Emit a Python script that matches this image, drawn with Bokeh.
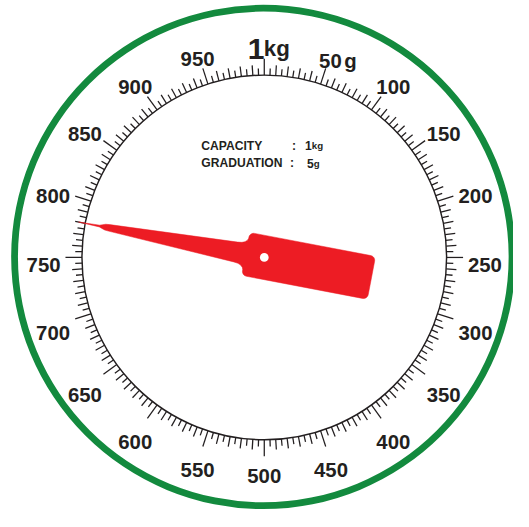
import numpy as np
from bokeh.plotting import figure
from bokeh.models import Range1d, ColumnDataSource
from bokeh.core.properties import value
from bokeh.embed import file_html
from bokeh.resources import INLINE

# ---------------- data ----------------
capacity_g = 1000
graduation_g = 5
tick_values = list(range(0, 1000, 5))
label_values = [50, 100, 150, 200, 250, 300, 350, 400, 450, 500,
                550, 600, 650, 700, 750, 800, 850, 900, 950]
label_texts = ["50", "100", "150", "200", "250", "300", "350", "400", "450", "500",
               "550", "600", "650", "700", "750", "800", "850", "900", "950"]
top_label_number = "1"
top_label_unit = "kg"
first_label_unit = "g"
needle_value = 780
info_names = ["CAPACITY", "GRADUATION"]
info_numbers = ["1", "5"]
info_units = ["kg", "g"]

# ---------------- styling ----------------
INK = "#231f20"
GREEN = "#138a3e"
RED = "#ed1c24"
FONT = value("Liberation Sans")

W, H = 513, 511
k = W / 529.0  # screen px per data unit


def fs(px):
    return f"{px * k:.2f}px"


p = figure(width=W, height=H, output_backend="svg", toolbar_location=None,
           x_range=Range1d(-272, 257), y_range=Range1d(-262, 265),
           x_axis_type=None, y_axis_type=None, min_border=0)
p.grid.visible = False
p.outline_line_color = None
p.background_fill_color = "white"
p.border_fill_color = "white"


def ang(v):
    return 2 * np.pi * np.asarray(v, dtype=float) / capacity_g


# outer green ring
p.annulus(x=[-1], y=[0.5], inner_radius=253, outer_radius=260,
          fill_color=GREEN, line_color=None)

# baseline arc
r0 = 188
p.circle(x=[0], y=[0], radius=r0, fill_color=None, line_color=INK, line_width=1.5 * k)

# ticks
tv = np.array(tick_values)
th = ang(tv)
lengths = np.where(tv % 50 == 0, 17, np.where(tv % 10 == 0, 10.5, 7))
tick_src = ColumnDataSource(dict(
    x0=r0 * np.sin(th), y0=r0 * np.cos(th),
    x1=(r0 + lengths) * np.sin(th), y1=(r0 + lengths) * np.cos(th)))
p.segment(x0="x0", y0="y0", x1="x1", y1="y1", source=tick_src,
          line_color=INK, line_width=1.3 * k)

# numeric labels
lv = np.array(label_values)
lt = ang(lv)
w = np.array([11.7 * len(s) for s in label_texts])
h = 15.0
R = 210 + w / 2 * np.abs(np.sin(lt)) + h / 2 * np.abs(np.cos(lt))
cx = R * np.sin(lt)
cy = R * np.cos(lt)
lab_src = ColumnDataSource(dict(x=cx, y=cy - 7.5, text=label_texts))
p.text(x="x", y="y", text="text", source=lab_src, text_font=FONT,
       text_font_style="bold", text_font_size=fs(21), text_color=INK,
       text_align="center", text_baseline="alphabetic")
# "g" after first label
p.text(x=[cx[0] + w[0] / 2 + 2.5], y=[cy[0] - 7.5], text=[first_label_unit],
       text_font=FONT, text_font_style="bold", text_font_size=fs(21),
       text_color=INK, text_align="left", text_baseline="alphabetic")
# "1kg" at top
p.text(x=[-17], y=[215], text=[top_label_number], text_font=FONT,
       text_font_style="bold", text_font_size=fs(31), text_color=INK,
       text_align="left", text_baseline="alphabetic")
p.text(x=[-0.5], y=[215], text=[top_label_unit], text_font=FONT,
       text_font_style="bold", text_font_size=fs(23), text_color=INK,
       text_align="left", text_baseline="alphabetic")

# info block
info_y = [115, 97]
p.text(x=[-65, -65], y=info_y, text=info_names, text_font=FONT,
       text_font_style="bold", text_font_size=fs(12.5), text_color=INK,
       text_align="left", text_baseline="alphabetic")
p.text(x=[30.7, 28.7], y=info_y, text=[":", ":"], text_font=FONT,
       text_font_style="bold", text_font_size=fs(12.5), text_color=INK,
       text_align="center", text_baseline="alphabetic")
p.text(x=[42, 44], y=info_y, text=info_numbers, text_font=FONT,
       text_font_style="bold", text_font_size=fs(12.5), text_color=INK,
       text_align="left", text_baseline="alphabetic")
p.text(x=[49, 51], y=info_y, text=info_units, text_font=FONT,
       text_font_style="bold", text_font_size=fs(10), text_color=INK,
       text_align="left", text_baseline="alphabetic")

# needle shape (s along needle toward tip, t across)
upper = [(195, 0.0), (183, 0.5), (173, 0.9), (170, 2.0), (167, 3.0), (163, 3.4),
         (30, 10.4), (25.5, 11.0), (22.5, 12.3), (20.3, 14.3), (19.5, 16.5)]
rc = 5.0
for a in np.linspace(0, np.pi / 2, 7):
    upper.append((14.5 + rc * np.cos(a), 17.5 + rc * np.sin(a)))
for a in np.linspace(np.pi / 2, np.pi, 7):
    upper.append((-107.5 + rc * np.cos(a), 17.5 + rc * np.sin(a)))
upper.append((-112.5, 0.0))
outline = upper + [(s, -t) for (s, t) in reversed(upper[1:-1])]
S = np.array([q[0] for q in outline])
T = np.array([q[1] for q in outline])
na = float(ang(needle_value))
dx, dy = np.sin(na), np.cos(na)
nx, ny = np.cos(na), -np.sin(na)
p.patch(x=S * dx + T * nx, y=S * dy + T * ny, fill_color=RED, line_color=RED,
        line_width=0.5)
# pivot hole
p.circle(x=[0], y=[0], radius=4.5, fill_color="white", line_color=None)

open("out.html", "w").write(file_html(p, INLINE))
